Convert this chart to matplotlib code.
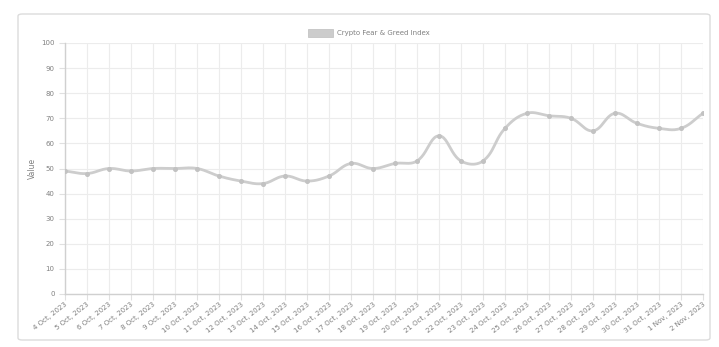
import numpy as np
import matplotlib
matplotlib.use("Agg")
import matplotlib.pyplot as plt
from matplotlib.patches import FancyBboxPatch, Rectangle

# data
dates = ["4 Oct, 2023", "5 Oct, 2023", "6 Oct, 2023", "7 Oct, 2023", "8 Oct, 2023",
         "9 Oct, 2023", "10 Oct, 2023", "11 Oct, 2023", "12 Oct, 2023", "13 Oct, 2023",
         "14 Oct, 2023", "15 Oct, 2023", "16 Oct, 2023", "17 Oct, 2023", "18 Oct, 2023",
         "19 Oct, 2023", "20 Oct, 2023", "21 Oct, 2023", "22 Oct, 2023", "23 Oct, 2023",
         "24 Oct, 2023", "25 Oct, 2023", "26 Oct, 2023", "27 Oct, 2023", "28 Oct, 2023",
         "29 Oct, 2023", "30 Oct, 2023", "31 Oct, 2023", "1 Nov, 2023", "2 Nov, 2023"]
values = [49, 48, 50, 49, 50, 50, 50, 47, 45, 44,
          47, 45, 47, 52, 50, 52, 53, 63, 53, 53,
          66, 72, 71, 70, 65, 72, 68, 66, 66, 72]
y_ticks = [0, 10, 20, 30, 40, 50, 60, 70, 80, 90, 100]
series_name = "Crypto Fear & Greed Index"

W, H = 719, 347
fig = plt.figure(figsize=(W / 100, H / 100), dpi=100)
fig.patch.set_facecolor("white")

# card background
card = FancyBboxPatch((18 / W, 7 / H), 692 / W, 326 / H,
                      boxstyle="round,pad=0,rounding_size=0.006",
                      transform=fig.transFigure, facecolor="white",
                      edgecolor="#dcdcdc", linewidth=1.0, zorder=-5)
fig.patches.append(card)

left, right, top, bottom = 65, 703, 43, 294
ax = fig.add_axes([left / W, 1 - bottom / H, (right - left) / W, (bottom - top) / H])
ax.set_facecolor("none")
ax.set_zorder(2)

x = np.arange(len(values))
y = np.array(values, dtype=float)

# Chart.js style spline (tension 0.4), computed in pixel-ish units
sx = (right - left) / (len(values) - 1)
sy = (bottom - top) / 100.0
px, py = x * sx, y * sy
t = 0.4
cp_prev = []
cp_next = []
n = len(px)
for i in range(n):
    p0 = (px[max(i - 1, 0)], py[max(i - 1, 0)])
    p1 = (px[i], py[i])
    p2 = (px[min(i + 1, n - 1)], py[min(i + 1, n - 1)])
    d01 = np.hypot(p1[0] - p0[0], p1[1] - p0[1])
    d12 = np.hypot(p2[0] - p1[0], p2[1] - p1[1])
    s01 = d01 / (d01 + d12) if d01 + d12 else 0
    s12 = d12 / (d01 + d12) if d01 + d12 else 0
    fa, fb = t * s01, t * s12
    cp_prev.append((p1[0] - fa * (p2[0] - p0[0]), p1[1] - fa * (p2[1] - p0[1])))
    cp_next.append((p1[0] + fb * (p2[0] - p0[0]), p1[1] + fb * (p2[1] - p0[1])))

cx, cy = [], []
u = np.linspace(0, 1, 25)
for i in range(n - 1):
    P0 = np.array([px[i], py[i]])
    P1 = np.array(cp_next[i])
    P2 = np.array(cp_prev[i + 1])
    P3 = np.array([px[i + 1], py[i + 1]])
    b = ((1 - u) ** 3)[:, None] * P0 + (3 * (1 - u) ** 2 * u)[:, None] * P1 \
        + (3 * (1 - u) * u ** 2)[:, None] * P2 + (u ** 3)[:, None] * P3
    cx.extend(b[:, 0] / sx)
    cy.extend(b[:, 1] / sy)

ax.plot(cx, cy, color="#cdcdcd", linewidth=2.0, zorder=3, solid_capstyle="round")
ax.plot(x, y, "o", color="#c2c2c2", markersize=2.6, zorder=4)

ax.set_xlim(0, len(values) - 1)
ax.set_ylim(0, 100)
ax.set_yticks(y_ticks)
ax.set_xticks(x)
ax.set_xticklabels(dates, rotation=38, ha="right", rotation_mode="anchor")
ax.grid(True, color="#ececec", linewidth=0.8)
ax.set_axisbelow(True)
for s in ["top", "right"]:
    ax.spines[s].set_visible(False)
for s in ["left", "bottom"]:
    ax.spines[s].set_color("#d0d0d0")
    ax.spines[s].set_linewidth(1.0)
ax.tick_params(axis="both", colors="#e0e0e0", length=4, width=0.8,
               labelcolor="#808080", labelsize=5)
ax.tick_params(axis="x", pad=1)
ax.set_ylabel("Value", fontsize=5.5, color="#808080", labelpad=3)

# legend
fig.patches.append(Rectangle((308 / W, 1 - 37 / H), 25 / W, 8 / H,
                             transform=fig.transFigure, facecolor="#cccccc",
                             edgecolor="#c4c4c4", linewidth=0.6))
fig.text(337 / W, 1 - 33 / H, series_name, fontsize=5, color="#808080",
         va="center", ha="left")

fig.savefig("out.png", dpi=100, facecolor="white")
